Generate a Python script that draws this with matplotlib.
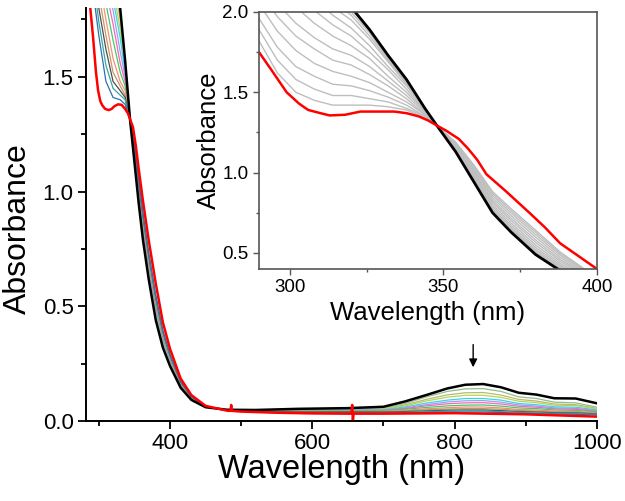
import matplotlib
matplotlib.use("Agg")
import matplotlib.pyplot as plt
from matplotlib.ticker import MultipleLocator, FormatStrFormatter

plt.rcParams['font.family'] = ['Liberation Sans', 'DejaVu Sans']

# ---------------- main panel data (absorbance vs wavelength) ----------------
wl_main = [280, 290, 300, 310, 320, 330, 337, 344,
           350, 356, 362, 370, 380, 390, 400, 415, 430, 450, 480, 520, 580,
           650, 700, 730, 760, 790, 815, 840, 865, 890, 915, 940, 970, 1000]

abs_black = [2.9, 2.6, 2.35, 2.15, 2.02, 1.80, 1.57, 1.31,
             1.13, .95, .79, .62, .44, .32, .24, .145, .092, .060, .049, .048, .053,
             .056, .062, .085, .113, .142, .158, .161, .147, .123, .115, .099, .098, .077]

abs_s01 = [2.8, 2.55, 2.3, 2.1, 1.98, 1.78, 1.56, 1.31,
           1.139, .962, .804, .634, .453, .329, .246, .148, .094, .060, .049, .048, .051,
           .052, .056, .076, .105, .129, .140, .141, .129, .105, .098, .082, .079, .060]
abs_s02 = [2.75, 2.5, 2.25, 2.05, 1.93, 1.75, 1.55, 1.31,
           1.147, .973, .816, .646, .464, .337, .251, .151, .095, .061, .049, .047, .049,
           .050, .053, .070, .094, .114, .123, .124, .113, .094, .087, .074, .071, .055]
abs_s03 = [2.7, 2.45, 2.2, 2.01, 1.88, 1.71, 1.54, 1.31,
           1.154, .983, .827, .657, .475, .344, .257, .154, .097, .061, .048, .047, .049,
           .050, .052, .066, .087, .104, .112, .112, .103, .086, .080, .069, .067, .052]
abs_s04 = [2.65, 2.4, 2.15, 1.97, 1.84, 1.67, 1.52, 1.31,
           1.161, .992, .838, .668, .485, .351, .261, .156, .098, .062, .048, .046, .047,
           .048, .049, .061, .078, .091, .098, .098, .091, .076, .071, .062, .060, .048]
abs_s05 = [2.6, 2.35, 2.1, 1.92, 1.79, 1.61, 1.50, 1.31,
           1.167, 1.001, .848, .678, .494, .357, .266, .159, .099, .062, .048, .045, .046,
           .047, .048, .057, .071, .083, .088, .089, .082, .070, .065, .057, .055, .045]
abs_s06 = [2.55, 2.3, 2.05, 1.88, 1.73, 1.56, 1.48, 1.31,
           1.174, 1.010, .858, .688, .504, .364, .270, .161, .100, .062, .048, .045, .045,
           .046, .046, .054, .066, .075, .079, .080, .074, .064, .060, .053, .051, .042]
abs_s07 = [2.5, 2.25, 2.0, 1.82, 1.66, 1.52, 1.46, 1.31,
           1.180, 1.018, .867, .697, .512, .370, .274, .163, .101, .063, .047, .044, .044,
           .045, .045, .051, .059, .066, .069, .070, .065, .057, .054, .048, .046, .040]
abs_s08 = [2.45, 2.2, 1.93, 1.75, 1.58, 1.48, 1.44, 1.31,
           1.185, 1.025, .875, .705, .520, .375, .278, .165, .102, .063, .047, .043, .042,
           .043, .042, .047, .053, .058, .061, .061, .057, .050, .048, .043, .042, .036]
abs_s09 = [2.4, 2.13, 1.86, 1.68, 1.52, 1.46, 1.42, 1.31,
           1.190, 1.033, .884, .714, .528, .381, .281, .167, .104, .063, .047, .043, .041,
           .042, .041, .044, .049, .052, .054, .054, .051, .046, .043, .040, .038, .034]
abs_s10 = [2.35, 2.05, 1.80, 1.62, 1.48, 1.44, 1.41, 1.31,
           1.196, 1.040, .892, .722, .536, .386, .285, .169, .105, .064, .046, .042, .039,
           .040, .039, .041, .044, .047, .048, .048, .045, .041, .039, .036, .035, .031]
abs_s11 = [2.3, 1.98, 1.74, 1.55, 1.45, 1.42, 1.40, 1.31,
           1.200, 1.046, .899, .729, .542, .390, .288, .171, .105, .064, .046, .041, .037,
           .038, .037, .038, .041, .043, .044, .044, .041, .038, .036, .033, .032, .029]
abs_s12 = [2.25, 1.92, 1.68, 1.48, 1.41, 1.40, 1.38, 1.31,
           1.205, 1.052, .906, .736, .549, .395, .291, .172, .106, .064, .046, .040, .036,
           .036, .035, .036, .037, .039, .039, .039, .037, .034, .032, .030, .029, .026]

step_colors = ['#8FBC8F', '#BDB76B', '#B5D45A', '#33D6E8', '#A39BF0', '#F06AB4',
               '#3FCB6B', '#F0907A', '#C8965E', '#4D4D4D', '#36A6A6', '#2F6FAF']

wl_red = [280, 284, 288, 292, 296, 299, 302, 305, 309, 314, 318, 322, 327, 332, 337, 341,
          344, 348, 352, 356, 362, 370, 380, 390, 400, 415, 430, 450, 480, 485, 486, 487,
          500, 550, 600, 650, 655, 656, 657, 658, 660, 700, 800, 900, 1000]
abs_red = [2.05, 1.9, 1.8, 1.67, 1.52, 1.44, 1.395, 1.375, 1.36, 1.355, 1.36, 1.372, 1.38,
           1.378, 1.36, 1.34, 1.315, 1.28, 1.20, 1.10, .96, .79, .60, .43, .315, .185, .113,
           .066, .045, .044, .07, .044, .041, .036, .033, .032, .032, .07, .0, .032, .032,
           .032, .034, .029, .019]

# ---------------- inset data (290-400 nm zoom) ----------------
wl_inset = [290, 296, 302, 308, 314, 320, 326, 332, 338, 344,
            348, 354, 360, 366, 372, 380, 388, 396, 400]

ins_black = [2.60, 2.48, 2.36, 2.24, 2.13, 2.03, 1.89, 1.73, 1.58, 1.40,
             1.29, 1.13, .94, .75, .63, .49, .39, .32, .29]

ins_g01 = [2.59, 2.47, 2.35, 2.23, 2.12, 2.02, 1.88, 1.72, 1.58, 1.40, 1.29, 1.131, .942, .752, .632, .493, .392, .321, .291]
ins_g02 = [2.56, 2.44, 2.32, 2.20, 2.10, 2.00, 1.87, 1.71, 1.57, 1.40, 1.29, 1.133, .945, .756, .637, .497, .396, .324, .294]
ins_g03 = [2.53, 2.41, 2.29, 2.17, 2.07, 1.98, 1.85, 1.70, 1.56, 1.39, 1.29, 1.135, .949, .762, .643, .503, .400, .327, .296]
ins_g04 = [2.49, 2.36, 2.24, 2.13, 2.03, 1.95, 1.83, 1.69, 1.55, 1.39, 1.29, 1.138, .954, .768, .650, .511, .406, .331, .300]
ins_g05 = [2.44, 2.30, 2.18, 2.08, 1.98, 1.90, 1.79, 1.66, 1.54, 1.39, 1.29, 1.142, .962, .777, .660, .522, .414, .336, .305]
ins_g06 = [2.37, 2.23, 2.11, 2.01, 1.92, 1.85, 1.75, 1.64, 1.52, 1.38, 1.29, 1.147, .971, .789, .673, .535, .424, .343, .311]
ins_g07 = [2.29, 2.15, 2.03, 1.93, 1.85, 1.79, 1.71, 1.60, 1.50, 1.38, 1.29, 1.153, .981, .802, .687, .550, .435, .351, .318]
ins_g08 = [2.21, 2.05, 1.93, 1.84, 1.77, 1.73, 1.66, 1.57, 1.48, 1.37, 1.29, 1.160, .993, .816, .703, .566, .448, .360, .326]
ins_g09 = [2.13, 1.97, 1.85, 1.77, 1.70, 1.67, 1.61, 1.54, 1.46, 1.36, 1.29, 1.166, 1.003, .829, .717, .581, .459, .368, .334]
ins_g10 = [2.05, 1.88, 1.76, 1.68, 1.63, 1.60, 1.56, 1.50, 1.44, 1.36, 1.29, 1.172, 1.015, .844, .733, .598, .472, .376, .341]
ins_g11 = [1.96, 1.78, 1.66, 1.60, 1.55, 1.54, 1.51, 1.47, 1.42, 1.35, 1.29, 1.179, 1.026, .858, .749, .614, .485, .385, .349]
ins_g12 = [1.89, 1.70, 1.58, 1.52, 1.48, 1.48, 1.46, 1.44, 1.40, 1.35, 1.29, 1.184, 1.037, .871, .763, .629, .496, .393, .357]
ins_g13 = [1.82, 1.62, 1.50, 1.45, 1.42, 1.42, 1.42, 1.41, 1.39, 1.34, 1.29, 1.190, 1.046, .882, .776, .642, .506, .399, .363]

wl_ins_red = [290, 294, 299, 303, 306, 310, 313, 318, 323, 328, 334, 338, 342, 345, 348, 351,
              355, 358, 361, 364, 367, 370, 374, 378, 383, 388, 394, 400]
ins_red = [1.75, 1.64, 1.50, 1.43, 1.39, 1.37, 1.356, 1.36, 1.38, 1.38, 1.38, 1.37, 1.35,
           1.325, 1.292, 1.26, 1.21, 1.15, 1.08, 0.99, 0.94, 0.89, 0.82, 0.75, 0.66, 0.56,
           0.48, 0.40]

steps = [abs_s01, abs_s02, abs_s03, abs_s04, abs_s05, abs_s06,
         abs_s07, abs_s08, abs_s09, abs_s10, abs_s11, abs_s12]
greys = [ins_g01, ins_g02, ins_g03, ins_g04, ins_g05, ins_g06, ins_g07,
         ins_g08, ins_g09, ins_g10, ins_g11, ins_g12, ins_g13]

fig = plt.figure(figsize=(6.25, 5.01), dpi=100)

# main panel
ax = fig.add_axes([0.1376, 0.1597, 0.8176, 0.8244])
for vals, c in zip(steps, step_colors):
    ax.plot(wl_main, vals, color=c, lw=0.9)
ax.plot(wl_main, abs_black, color='black', lw=1.8)
ax.plot(wl_red, abs_red, color='#FF0000', lw=1.8)

ax.set_xlim(282, 1000)
ax.set_ylim(0, 1.8)
for s in ['top', 'right']:
    ax.spines[s].set_visible(False)
for s in ['left', 'bottom']:
    ax.spines[s].set_linewidth(1.4)
ax.xaxis.set_major_locator(MultipleLocator(200))
ax.xaxis.set_minor_locator(MultipleLocator(100))
ax.yaxis.set_major_locator(MultipleLocator(0.5))
ax.yaxis.set_minor_locator(MultipleLocator(0.25))
ax.yaxis.set_major_formatter(FormatStrFormatter('%.1f'))
ax.tick_params(which='major', direction='out', length=5.5, width=1.3, labelsize=16)
ax.tick_params(which='minor', direction='out', length=3.5, width=1.3)
ax.set_xlabel('Wavelength (nm)', fontsize=23.5)
ax.set_ylabel('Absorbance', fontsize=23)
ax.xaxis.set_label_coords(0.5, -0.08)
ax.yaxis.set_label_coords(-0.103, 0.465)

ax.annotate('', xy=(826, 0.222), xytext=(826, 0.345),
            arrowprops=dict(arrowstyle='-|>', color='black', lw=1, mutation_scale=12))

# inset
axin = fig.add_axes([0.4144, 0.4631, 0.5408, 0.513])
for vals in greys:
    axin.plot(wl_inset, vals, color='#BEBEBE', lw=1.0)
axin.plot(wl_inset, ins_black, color='black', lw=2.0)
axin.plot(wl_ins_red, ins_red, color='#FF0000', lw=1.8)

axin.set_xlim(290, 400)
axin.set_ylim(0.4, 2.0)
for s in axin.spines.values():
    s.set_color('#555555')
    s.set_linewidth(1.2)
axin.xaxis.set_major_locator(MultipleLocator(50))
axin.xaxis.set_minor_locator(MultipleLocator(25))
axin.yaxis.set_major_locator(MultipleLocator(0.5))
axin.yaxis.set_minor_locator(MultipleLocator(0.25))
axin.yaxis.set_major_formatter(FormatStrFormatter('%.1f'))
axin.tick_params(which='major', direction='out', length=4, width=1, labelsize=13.5, color='#555555')
axin.tick_params(which='minor', direction='out', length=2.5, width=1, color='#555555')
axin.set_xlabel('Wavelength (nm)', fontsize=18.5, labelpad=3)
axin.set_ylabel('Absorbance', fontsize=18.5, labelpad=1)

fig.savefig('out.png', dpi=100)
